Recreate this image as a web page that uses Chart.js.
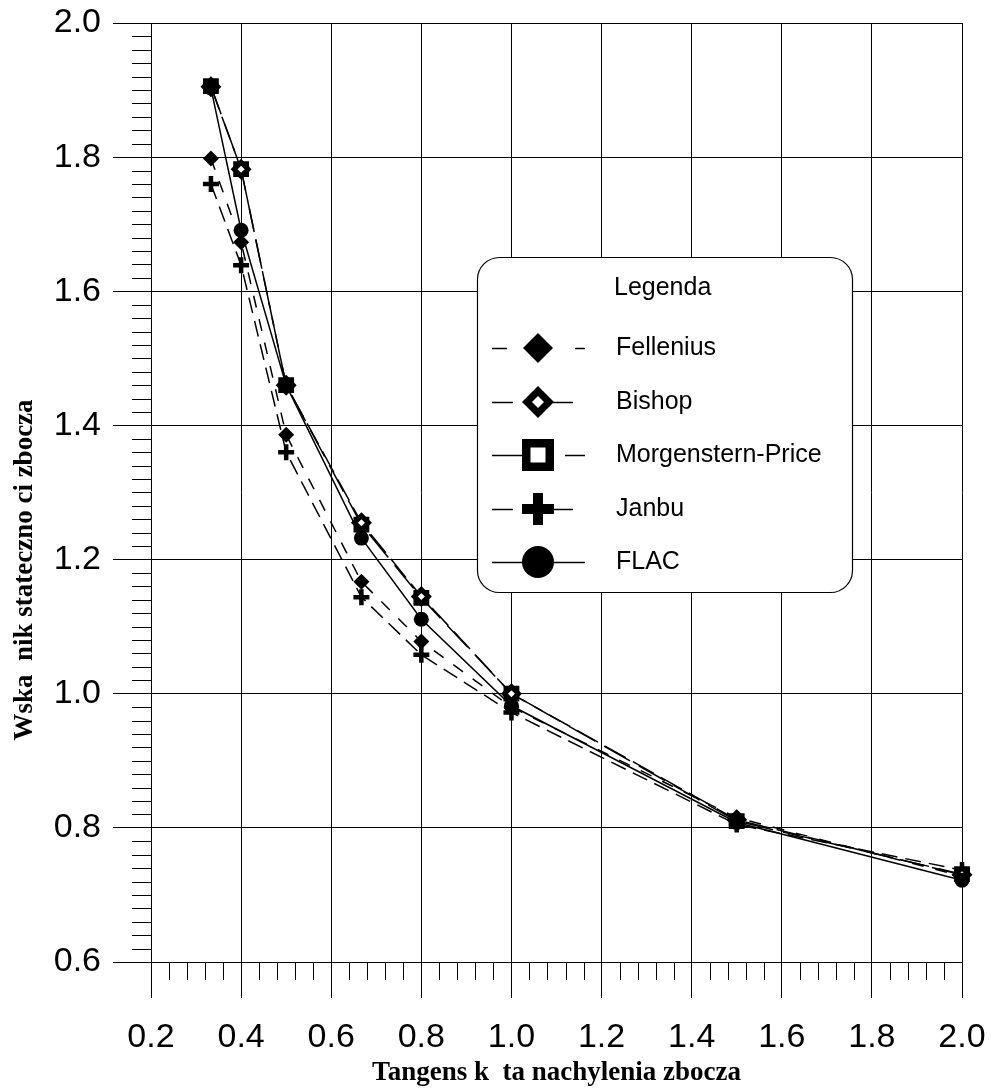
<!DOCTYPE html>
<html><head><meta charset="utf-8">
<script src="https://cdn.jsdelivr.net/npm/chart.js@4.4.1/dist/chart.umd.min.js"></script>
<style>html,body{margin:0;padding:0;background:#fff;} canvas{display:block;}</style>
</head><body>
<canvas id="c" width="992" height="1088"></canvas>
<script>
// ---- data ----
const xValues     = [0.333, 0.4, 0.5, 0.667, 0.8, 1.0, 1.5, 2.0];
const fellenius   = [1.798, 1.673, 1.386, 1.167, 1.078, 0.980, 0.815, 0.728];
const bishop      = [1.905, 1.782, 1.460, 1.255, 1.145, 1.000, 0.812, 0.730];
const morgenstern = [1.906, 1.782, 1.460, 1.252, 1.143, 1.000, 0.810, 0.731];
const janbu       = [1.760, 1.639, 1.360, 1.144, 1.058, 0.972, 0.805, 0.737];
const flac        = [1.903, 1.691, 1.460, 1.232, 1.111, 0.982, 0.808, 0.722];
const seriesNames = ['Fellenius', 'Bishop', 'Morgenstern-Price', 'Janbu', 'FLAC'];
const xTickValues = [0.2, 0.4, 0.6, 0.8, 1.0, 1.2, 1.4, 1.6, 1.8, 2.0];
const yTickValues = [0.6, 0.8, 1.0, 1.2, 1.4, 1.6, 1.8, 2.0];
const xTitle = 'Tangens k  ta nachylenia zbocza';
const yTitle = 'Wska  nik stateczno ci zbocza';
const legendTitle = 'Legenda';

const pts = arr => xValues.map((x, i) => ({x: x, y: arr[i]}));

const minorTicks = {
  id: 'minorTicks',
  afterDraw(chart) {
    const ctx = chart.ctx, xs = chart.scales.x, ys = chart.scales.y;
    const a = chart.chartArea;
    ctx.save();
    ctx.strokeStyle = '#000'; ctx.lineWidth = 1;
    ctx.beginPath();
    for (let i = 0; i <= 70; i++) {
      if (i % 10 === 0) continue;
      const py = Math.round(ys.getPixelForValue(0.6 + 0.02 * i)) + 0.5;
      ctx.moveTo(a.left - 19, py); ctx.lineTo(a.left, py);
    }
    for (let i = 0; i <= 45; i++) {
      if (i % 5 === 0) continue;
      const px = Math.round(xs.getPixelForValue(0.2 + 0.04 * i)) + 0.5;
      ctx.moveTo(px, a.bottom); ctx.lineTo(px, a.bottom + 18);
    }
    ctx.stroke();
    // axis titles
    ctx.fillStyle = '#000';
    ctx.font = 'bold 27px "Liberation Serif", "Times New Roman", serif';
    ctx.textAlign = 'center'; ctx.textBaseline = 'alphabetic';
    ctx.fillText(xTitle, (a.left + a.right) / 2, 1080);
    ctx.translate(32, 570);
    ctx.rotate(-Math.PI / 2);
    ctx.fillText(yTitle, 0, 0);
    ctx.restore();
  }
};

function diamond(ctx, x, y, r) {
  ctx.beginPath(); ctx.moveTo(x, y - r); ctx.lineTo(x + r, y); ctx.lineTo(x, y + r); ctx.lineTo(x - r, y); ctx.closePath(); ctx.fill();
}

const boxLegend = {
  id: 'boxLegend',
  afterDraw(chart) {
    const ctx = chart.ctx;
    ctx.save();
    const bx = 477.5, by = 257.5, bw = 375, bh = 335, r = 22;
    ctx.beginPath();
    ctx.roundRect(bx, by, bw, bh, r);
    ctx.fillStyle = '#fff'; ctx.fill();
    ctx.lineWidth = 1.2; ctx.strokeStyle = '#000'; ctx.stroke();
    ctx.fillStyle = '#000';
    ctx.font = '25px "Liberation Sans", Arial, sans-serif';
    ctx.textBaseline = 'middle';
    ctx.textAlign = 'left';
    ctx.fillText(legendTitle, 614, 288);
    const rows = [348, 402, 455, 509, 562];
    const segs = [
      [[492, 507], [575, 585]],
      [[492, 513], [553, 573]],
      [[492, 522], [565, 585]],
      [[492, 513], [553, 573]],
      [[492, 585]]
    ];
    const mx = 538;
    ctx.lineWidth = 1.5;
    rows.forEach((y, i) => {
      ctx.beginPath();
      segs[i].forEach(s => { ctx.moveTo(s[0], y + 0.5); ctx.lineTo(s[1], y + 0.5); });
      ctx.stroke();
      ctx.fillStyle = '#000';
      if (i === 0) { diamond(ctx, mx, y, 15); }
      else if (i === 1) { diamond(ctx, mx, y, 16); ctx.fillStyle = '#fff'; diamond(ctx, mx, y, 6); }
      else if (i === 2) { ctx.fillRect(mx - 16, y - 16, 32, 32); ctx.fillStyle = '#fff'; ctx.fillRect(mx - 7.5, y - 7.5, 15, 15); }
      else if (i === 3) { ctx.fillRect(mx - 16, y - 5, 32, 10); ctx.fillRect(mx - 5, y - 16, 10, 32); }
      else { ctx.beginPath(); ctx.arc(mx, y, 16, 0, Math.PI * 2); ctx.fill(); }
      ctx.fillStyle = '#000';
      ctx.fillText(seriesNames[i], 616, y);
    });
    ctx.restore();
  }
};

const common = {fill: false, borderColor: '#000', borderWidth: 1.5, tension: 0, pointBorderColor: '#000', clip: false};

new Chart(document.getElementById('c'), {
  type: 'scatter',
  data: {
    datasets: [
      Object.assign({}, common, {label: seriesNames[0], data: pts(fellenius), showLine: true, borderDash: [12, 12],
        pointStyle: 'rectRot', pointRadius: 8, pointBackgroundColor: '#000', pointBorderWidth: 0, order: 3}),
      Object.assign({}, common, {label: seriesNames[1], data: pts(bishop), showLine: true, borderDash: [24, 8],
        pointStyle: 'rectRot', pointRadius: 7, pointBackgroundColor: '#fff', pointBorderWidth: 5, order: 1}),
      Object.assign({}, common, {label: seriesNames[2], data: pts(morgenstern), showLine: true, borderDash: [30, 10],
        pointStyle: 'rect', pointRadius: 8, pointBackgroundColor: '#fff', pointBorderWidth: 4.5, order: 4}),
      Object.assign({}, common, {label: seriesNames[3], data: pts(janbu), showLine: true, borderDash: [16, 8],
        pointStyle: 'cross', pointRadius: 8, pointBorderWidth: 4.5, order: 2}),
      Object.assign({}, common, {label: seriesNames[4], data: pts(flac), showLine: true,
        pointStyle: 'circle', pointRadius: 7.5, pointBackgroundColor: '#000', pointBorderWidth: 0, order: 0})
    ]
  },
  options: {
    responsive: false,
    animation: false,
    events: [],
    layout: {autoPadding: false, padding: {top: 23, right: 30, left: 0, bottom: 0}},
    plugins: {legend: {display: false}, tooltip: {enabled: false}},
    scales: {
      x: {
        type: 'linear', min: 0.2, max: 2.0,
        afterBuildTicks: s => { s.ticks = xTickValues.map(v => ({value: v})); },
        afterFit: s => { s.height = 126; s.paddingLeft = 0; s.paddingRight = 0; },
        ticks: {color: '#000', padding: 19, maxRotation: 0, autoSkip: false,
          font: {family: '"Liberation Sans", Arial, sans-serif', size: 34},
          callback: v => v.toFixed(1)},
        grid: {color: '#000', lineWidth: 1, tickLength: 36, tickColor: '#000'},
        border: {display: true, color: '#000', width: 1}
      },
      y: {
        type: 'linear', min: 0.6, max: 2.0,
        afterBuildTicks: s => { s.ticks = yTickValues.map(v => ({value: v})); },
        afterFit: s => { s.width = 151; s.paddingTop = 0; s.paddingBottom = 0; },
        ticks: {color: '#000', padding: 12, autoSkip: false,
          font: {family: '"Liberation Sans", Arial, sans-serif', size: 34},
          callback: v => v.toFixed(1)},
        grid: {color: '#000', lineWidth: 1, tickLength: 38, tickColor: '#000'},
        border: {display: true, color: '#000', width: 1}
      }
    }
  },
  plugins: [minorTicks, boxLegend]
});
</script>
</body></html>
